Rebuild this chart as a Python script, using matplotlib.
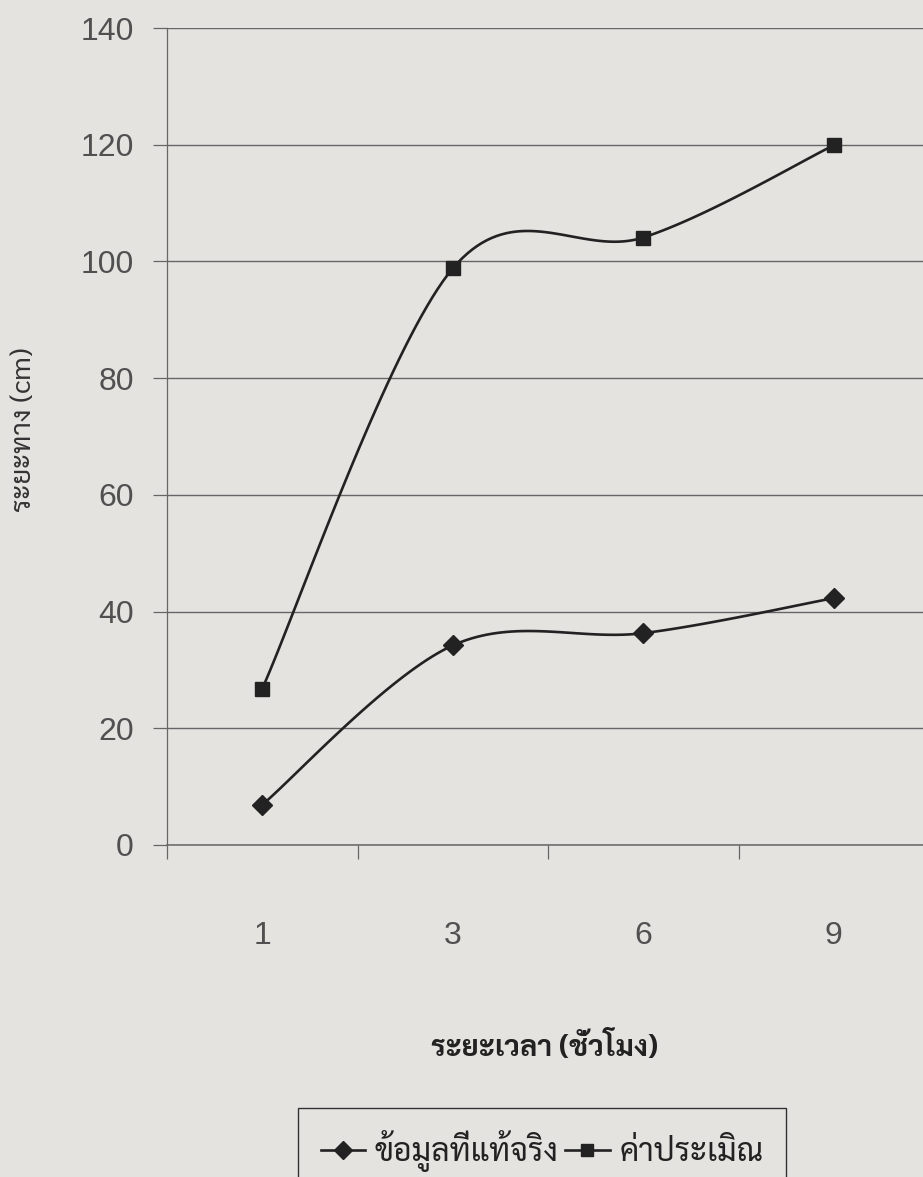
import matplotlib
matplotlib.use("Agg")
import matplotlib.pyplot as plt
from matplotlib import font_manager
from matplotlib.lines import Line2D
import numpy as np

hours = ["1", "3", "6", "9"]
actual = [6.9, 34.2, 36.3, 42.3]        # ข้อมูลที่แท้จริง
estimate = [26.8, 98.8, 104.1, 119.9]   # ค่าประเมิณ
yticks = [0, 20, 40, 60, 80, 100, 120, 140]

ylabel = "ระยะทาง (cm)"
xlabel = "ระยะเวลา (ชั่วโมง)"
names = ["ข้อมูลที่แท้จริง", "ค่าประเมิณ"]

# pick a Thai font that is actually there
have = {f.name for f in font_manager.fontManager.ttflist}
thai_font = "DejaVu Sans"
for name in ["Sarabun", "Noto Sans Thai Looped", "Noto Sans Thai", "Noto Serif Thai",
             "Athiti", "Bai Jamjuree", "Anuphan"]:
    if name in have:
        thai_font = name
        break

bg = "#e4e3e0"
ink = "#222222"
grey = "#666666"


def smooth(xs, ys, n=40):
    # excel style smoothed line (catmull-rom through the points)
    px = [xs[0]] + list(xs) + [xs[-1]]
    py = [ys[0]] + list(ys) + [ys[-1]]
    cx, cy = [], []
    t = np.linspace(0, 1, n)
    for i in range(1, len(px) - 2):
        p0, p1, p2, p3 = [np.array([px[j], py[j]]) for j in range(i - 1, i + 3)]
        b1 = p1 + (p2 - p0) / 6
        b2 = p2 - (p3 - p1) / 6
        for tt in t:
            pt = ((1 - tt) ** 3) * p1 + 3 * ((1 - tt) ** 2) * tt * b1 + 3 * (1 - tt) * tt ** 2 * b2 + tt ** 3 * p2
            cx.append(pt[0])
            cy.append(pt[1])
    return cx, cy


fig = plt.figure(figsize=(9.23, 11.77), dpi=100, facecolor=bg)
ax = fig.add_axes([167 / 923, 332 / 1177, 762 / 923, 817 / 1177])
ax.set_facecolor(bg)

x = np.arange(len(hours))
for vals, mk, ms in [(actual, "D", 10), (estimate, "s", 10.5)]:
    sx, sy = smooth(x, vals)
    ax.plot(sx, sy, color=ink, lw=1.9, zorder=3)
    ax.plot(x, vals, ls="none", marker=mk, ms=ms, color=ink, mec=ink, zorder=4)

ax.set_xlim(-0.5, len(hours) - 0.5)
ax.set_ylim(0, 140)
ax.set_yticks(yticks)
ax.set_xticks(x)
ax.set_xticklabels(hours)
ax.set_xticks(np.arange(-0.5, len(hours)), minor=True)

ax.yaxis.grid(True, color=grey, lw=1.0)
ax.set_axisbelow(True)
for s in ["top", "right", "bottom"]:
    ax.spines[s].set_visible(False)
ax.spines["left"].set_color(grey)
ax.spines["left"].set_linewidth(0.9)
ax.axhline(0, color=grey, lw=1.1, zorder=2, clip_on=False)

ax.tick_params(axis="y", length=10, width=0.9, color=grey, pad=14,
               labelsize=23, labelcolor="#505050")
ax.tick_params(axis="x", which="major", length=0, pad=55,
               labelsize=23, labelcolor="#505050")
ax.tick_params(axis="x", which="minor", length=10, width=0.9, color=grey)
for lab in ax.get_xticklabels() + ax.get_yticklabels():
    lab.set_family("Liberation Sans")

fig.text(24 / 923, 1 - 430 / 1177, ylabel, rotation=90, ha="center", va="center",
         fontsize=20, color="#333333", family=[thai_font, "DejaVu Sans"])
fig.text(545 / 923, 1 - 1048 / 1177, xlabel, ha="center", va="center",
         fontsize=21, fontweight="bold", color="#222222", family=[thai_font, "DejaVu Sans"])

handles = [Line2D([], [], color=ink, lw=1.9, marker="D", ms=9),
           Line2D([], [], color=ink, lw=1.9, marker="s", ms=9)]
leg = fig.legend(handles, names, loc="upper center", ncol=2,
                 bbox_to_anchor=(542 / 923, 1 - 1108 / 1177),
                 prop={"family": thai_font, "size": 23}, frameon=True, fancybox=False,
                 edgecolor="#333333", facecolor=bg, framealpha=1,
                 handlelength=1.4, handletextpad=0.3, columnspacing=0.2,
                 borderpad=0.7, borderaxespad=0)
leg.get_frame().set_linewidth(1.0)
for t in leg.get_texts():
    t.set_color("#222222")

fig.savefig("out.png", dpi=100, facecolor=bg)
